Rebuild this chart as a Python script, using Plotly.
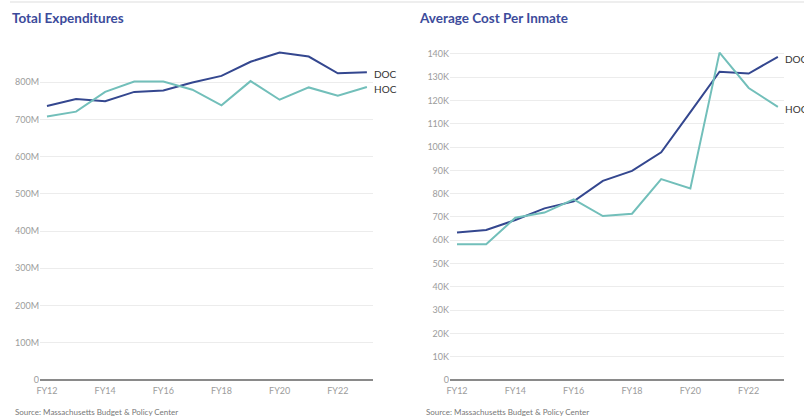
import plotly.graph_objects as go

years = [12, 13, 14, 15, 16, 17, 18, 19, 20, 21, 22, 23]
tick_years = [12, 14, 16, 18, 20, 22]
tick_labels = ["FY12", "FY14", "FY16", "FY18", "FY20", "FY22"]

# Total expenditures (millions of dollars)
doc_exp = [736, 755, 749, 774, 778, 799, 817, 855, 880, 869, 824, 827]
hoc_exp = [708, 721, 774, 802, 802, 780, 738, 803, 753, 786, 764, 787]

# Average cost per inmate (thousands of dollars)
doc_cost = [63.3, 64.4, 68.7, 73.7, 76.7, 85.5, 89.8, 97.8, 115.0, 132.4, 131.6, 138.8]
hoc_cost = [58.3, 58.3, 69.7, 71.9, 77.6, 70.4, 71.4, 86.3, 82.3, 140.6, 125.4, 117.3]

exp_ticks = [0, 100, 200, 300, 400, 500, 600, 700, 800]
exp_labels = ["0", "100M", "200M", "300M", "400M", "500M", "600M", "700M", "800M"]
cost_ticks = [0, 10, 20, 30, 40, 50, 60, 70, 80, 90, 100, 110, 120, 130, 140]
cost_labels = ["0"] + [f"{v}K" for v in cost_ticks[1:]]

DOC_C = "#34478f"
HOC_C = "#72bfba"
W, H = 804, 419

fig = go.Figure()
fig.add_trace(go.Scatter(x=years, y=doc_exp, mode="lines", line=dict(color=DOC_C, width=2),
                         xaxis="x", yaxis="y", name="DOC", hoverinfo="skip"))
fig.add_trace(go.Scatter(x=years, y=hoc_exp, mode="lines", line=dict(color=HOC_C, width=2),
                         xaxis="x", yaxis="y", name="HOC", hoverinfo="skip"))
fig.add_trace(go.Scatter(x=years, y=doc_cost, mode="lines", line=dict(color=DOC_C, width=2),
                         xaxis="x2", yaxis="y2", name="DOC", hoverinfo="skip"))
fig.add_trace(go.Scatter(x=years, y=hoc_cost, mode="lines", line=dict(color=HOC_C, width=2),
                         xaxis="x2", yaxis="y2", name="HOC", hoverinfo="skip"))

y0 = (H - 380) / H
xr = [11.76, 23.21]
tickfont = dict(family="Lato, sans-serif", size=9, color="#9c9c9c")

xcommon = dict(range=xr, tickvals=tick_years, ticktext=tick_labels, showgrid=False,
               zeroline=False, showline=False, ticks="", tickfont=tickfont, fixedrange=True,
               automargin=False, ticklabelstandoff=4)
ycommon = dict(showgrid=True, gridcolor="#ececec", gridwidth=1, zeroline=True,
               zerolinecolor="#8a8a8a", zerolinewidth=2, showline=False, ticks="",
               tickfont=tickfont, fixedrange=True, automargin=False)

fig.update_layout(
    width=W, height=H,
    margin=dict(l=0, r=0, t=0, b=0, pad=0, autoexpand=False),
    paper_bgcolor="white", plot_bgcolor="white",
    showlegend=False,
    xaxis=dict(domain=[40 / W, 373 / W], anchor="y", **xcommon),
    yaxis=dict(domain=[y0, (H - 45) / H], anchor="x", range=[0, 900],
               tickvals=exp_ticks, ticktext=exp_labels, **ycommon),
    xaxis2=dict(domain=[450 / W, 784 / W], anchor="y2", **xcommon),
    yaxis2=dict(domain=[y0, (H - 30.7) / H], anchor="x2", range=[0, 150],
                tickvals=cost_ticks, ticktext=cost_labels, **ycommon),
)

title_font = dict(family="Lato, sans-serif", size=13.5, color="#3c4b9b")
fig.add_annotation(text="<b>Total Expenditures</b>", xref="paper", yref="paper",
                   x=10 / W, y=(H - 18) / H, xanchor="left", yanchor="middle",
                   showarrow=False, font=title_font)
fig.add_annotation(text="<b>Average Cost Per Inmate</b>", xref="paper", yref="paper",
                   x=417 / W, y=(H - 18) / H, xanchor="left", yanchor="middle",
                   showarrow=False, font=title_font)

src_font = dict(family="Lato, sans-serif", size=8, color="#777777")
for xpos in (13, 424):
    fig.add_annotation(text="Source: Massachusetts Budget &amp; Policy Center", xref="paper",
                       yref="paper", x=xpos / W, y=(H - 412) / H, xanchor="left",
                       yanchor="middle", showarrow=False, font=src_font)

lab_font = dict(family="Lato, sans-serif", size=10, color="#333333")
for xa, ya, series, name in (("x", "y", doc_exp, "DOC"), ("x", "y", hoc_exp, "HOC"),
                             ("x2", "y2", doc_cost, "DOC"), ("x2", "y2", hoc_cost, "HOC")):
    fig.add_annotation(text=name, xref=xa, yref=ya, x=years[-1], y=series[-1],
                       xanchor="left", yanchor="middle", xshift=5, yshift=-2,
                       showarrow=False, font=lab_font)

fig.add_shape(type="line", xref="paper", yref="paper", x0=10 / W, x1=1, y0=(H - 2) / H,
              y1=(H - 2) / H, line=dict(color="#dddddd", width=1))

fig.write_html("out.html", config={"displayModeBar": False, "staticPlot": True},
               post_script="document.body.style.margin='0';document.body.style.overflow='hidden';")
